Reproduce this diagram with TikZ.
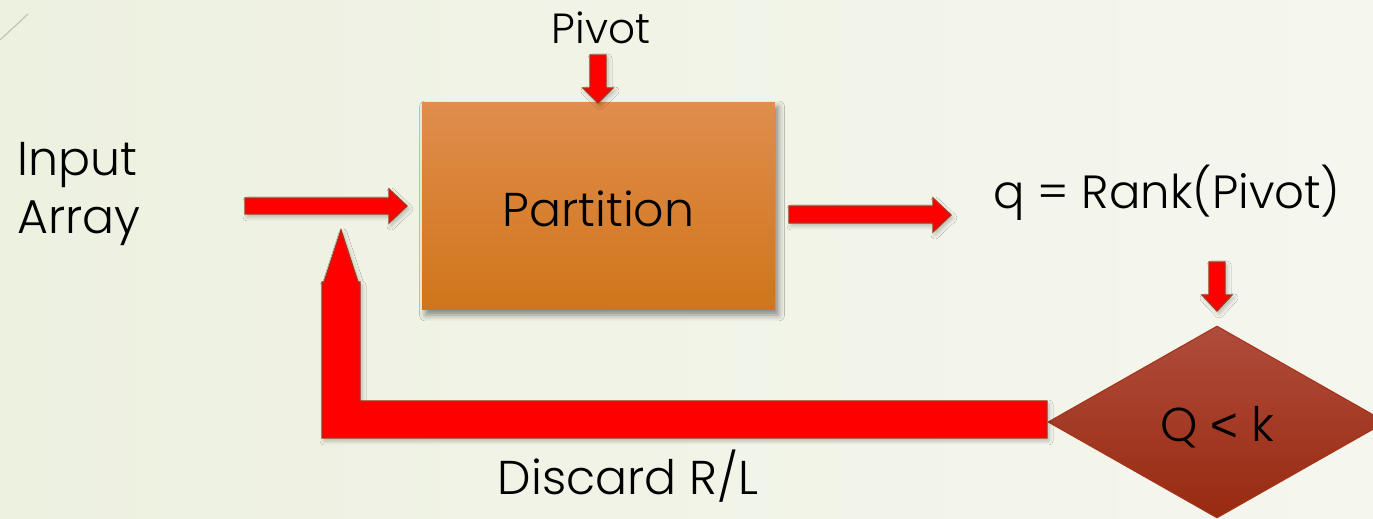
\documentclass[tikz,border=0pt]{standalone}
\usepackage{fontspec}
\setmainfont{Poppins}[UprightFont=* Light]
\newfontfamily\symfont{Liberation Sans}
\usetikzlibrary{shapes.geometric,shadows,shadows.blur}
\definecolor{bgleft}{RGB}{237,241,224}
\definecolor{bgright}{RGB}{245,246,238}
\definecolor{boxtop}{RGB}{225,141,77}
\definecolor{boxbot}{RGB}{207,117,26}
\definecolor{dectop}{RGB}{176,76,60}
\definecolor{decbot}{RGB}{152,42,16}
\definecolor{arrowred}{RGB}{255,0,0}
\definecolor{arrowedge}{RGB}{165,52,25}

\begin{document}
\begin{tikzpicture}[x=0.02cm,y=-0.02cm,
  txt/.style={font=\fontsize{27}{33}\selectfont,inner sep=0pt,text=black},
  procbox/.style={rectangle,inner sep=0pt,minimum width=7.06cm,minimum height=4.16cm,
    top color=boxtop,bottom color=boxbot,txt,text height=0.84cm,text depth=0pt,
    blur shadow={shadow xshift=0.07cm,shadow yshift=-0.1cm,shadow opacity=45,shadow blur radius=0.12cm}},
  decision/.style={diamond,inner sep=0pt,minimum width=6.76cm,minimum height=3.84cm,
    top color=dectop,bottom color=decbot,draw=arrowedge,line width=0.6pt,txt,
    text height=0.8cm,text depth=0pt},
  blockarrow/.style={fill=arrowred,draw=arrowedge,line width=0.7pt,line join=miter,
    blur shadow={shadow xshift=0.04cm,shadow yshift=-0.06cm,shadow opacity=25,shadow blur radius=0.08cm}}]
\clip (0,0) rectangle (1373,519);
\shade[left color=bgleft,right color=bgright] (0,0) rectangle (1373,519);
\draw[black!25,line width=0.6pt] (0,40) -- (28,14);

% boxes
\node[procbox] (partition) at (598.5,206) {Partition};
\node[decision] (test) at (1217,422) {Q {\symfont<} k};

% labels
\node[txt,font=\fontsize{24}{28}\selectfont,anchor=base] (pivot) at (601,44) {Pivot};
\node[txt,align=left,anchor=west] (input) at (17,194) {Input\\Array};
\node[txt,font=\fontsize{26.5}{33}\selectfont,anchor=base] (rank) at (1167,209) {q = Rank(Pivot)};
\node[txt,anchor=base] (discard) at (628,495) {Discard R/L};

% block arrows
\draw[blockarrow] (590,55) -- (606,55) -- (606,88) -- (613,88) -- (598,103) -- (583,88) -- (590,88) -- cycle;
\draw[blockarrow] (245,198) -- (389,198) -- (389,189) -- (407,206) -- (389,223) -- (389,214) -- (245,214) -- cycle;
\draw[blockarrow] (789,206) -- (933,206) -- (933,198) -- (951,215) -- (933,232) -- (933,223) -- (789,223) -- cycle;
\draw[blockarrow] (1209,262) -- (1225,262) -- (1225,295) -- (1232,295) -- (1217,311) -- (1202,295) -- (1209,295) -- cycle;
\draw[blockarrow] (1047,401) -- (360,401) -- (360,282) -- (358,282) -- (341,230) -- (324,282) -- (322,282) -- (322,438) -- (1047,438) -- cycle;
\end{tikzpicture}
\end{document}
